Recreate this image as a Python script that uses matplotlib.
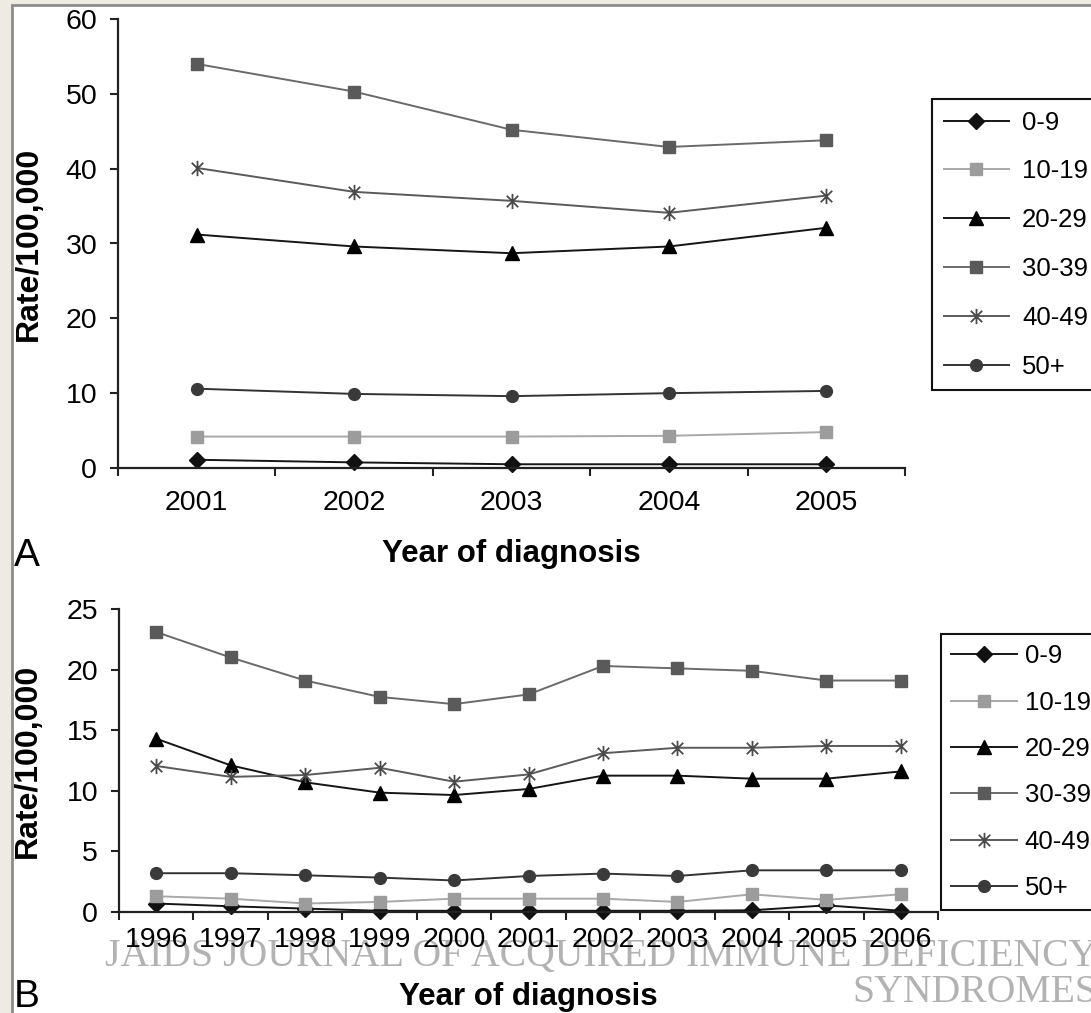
import matplotlib
matplotlib.use("Agg")
import matplotlib.pyplot as plt
from matplotlib.path import Path
from matplotlib.patches import Rectangle
from matplotlib.ticker import FixedLocator, NullFormatter

plt.rcParams['font.family'] = ['Liberation Sans', 'DejaVu Sans']

# ---------------- data ----------------
series_labels = ["0-9", "10-19", "20-29", "30-39", "40-49", "50+"]

years_a = ["2001", "2002", "2003", "2004", "2005"]
a_0_9 = [1.1, 0.75, 0.5, 0.5, 0.5]
a_10_19 = [4.2, 4.2, 4.2, 4.3, 4.8]
a_20_29 = [31.2, 29.6, 28.7, 29.6, 32.1]
a_30_39 = [54.0, 50.3, 45.2, 42.9, 43.8]
a_40_49 = [40.1, 36.9, 35.7, 34.1, 36.4]
a_50p = [10.6, 9.9, 9.6, 10.0, 10.3]

years_b = ["1996", "1997", "1998", "1999", "2000", "2001",
           "2002", "2003", "2004", "2005", "2006"]
b_0_9 = [0.7, 0.47, 0.28, 0.1, 0.1, 0.1, 0.1, 0.1, 0.14, 0.55, 0.1]
b_10_19 = [1.3, 1.1, 0.7, 0.83, 1.1, 1.1, 1.1, 0.83, 1.46, 1.0, 1.46]
b_20_29 = [14.3, 12.1, 10.7, 9.85, 9.65, 10.15, 11.25, 11.25, 11.0, 11.0, 11.6]
b_30_39 = [23.1, 21.0, 19.1, 17.75, 17.15, 17.95, 20.3, 20.1, 19.9, 19.1, 19.1]
b_40_49 = [12.05, 11.15, 11.3, 11.9, 10.75, 11.35, 13.1, 13.55, 13.55, 13.7, 13.7]
b_50p = [3.2, 3.2, 3.03, 2.84, 2.6, 2.97, 3.17, 2.97, 3.44, 3.44, 3.44]

# ---------------- styles ----------------
star = Path([(0, -1), (0, 1), (-0.75, -0.75), (0.75, 0.75), (-0.75, 0.75), (0.75, -0.75)],
            [Path.MOVETO, Path.LINETO, Path.MOVETO, Path.LINETO, Path.MOVETO, Path.LINETO])

styles = [
    dict(color='#151515', marker='D', ms=8, mfc='#111111', mec='#111111'),
    dict(color='#a8a8a8', marker='s', ms=8.5, mfc='#9c9c9c', mec='#9c9c9c'),
    dict(color='#151515', marker='^', ms=10, mfc='#000000', mec='#000000'),
    dict(color='#6a6a6a', marker='s', ms=8.5, mfc='#5a5a5a', mec='#5a5a5a'),
    dict(color='#5a5a5a', marker=star, ms=11, mfc='none', mec='#4a4a4a', mew=1.3),
    dict(color='#333333', marker='o', ms=8.5, mfc='#3a3a3a', mec='#3a3a3a'),
]

W, H = 1091, 1013
fig = plt.figure(figsize=(W / 100, H / 100), dpi=100)
fig.patch.set_facecolor('#eeebe3')
fig.patches.append(Rectangle((12 / W, -0.02), 1.05, 1 - 5 / H + 0.02,
                             transform=fig.transFigure, facecolor='white',
                             edgecolor='#8c8c8c', linewidth=2, zorder=-5))


def px_box(l, r, top, bottom):
    return [l / W, 1 - bottom / H, (r - l) / W, (bottom - top) / H]


def draw_panel(rect, cats, data, ymax, ystep, xpad, leg_anchor, leg_kw):
    ax = fig.add_axes(rect)
    ax.set_facecolor('none')
    x = list(range(len(cats)))
    for lab, vals, st in zip(series_labels, data, styles):
        ax.plot(x, vals, label=lab, lw=1.4, clip_on=False, **st)
    ax.set_xlim(-0.5, len(cats) - 0.5)
    ax.set_ylim(0, ymax)
    ax.set_yticks(list(range(0, ymax + 1, ystep)))
    ax.set_xticks(x)
    ax.set_xticklabels(cats)
    ax.xaxis.set_minor_locator(FixedLocator([i - 0.5 for i in range(len(cats) + 1)]))
    ax.xaxis.set_minor_formatter(NullFormatter())
    for s in ['top', 'right']:
        ax.spines[s].set_visible(False)
    for s in ['left', 'bottom']:
        ax.spines[s].set_color('#222222')
        ax.spines[s].set_linewidth(1.6)
    ax.tick_params(axis='y', direction='out', length=6, width=1.5, color='#222222',
                   labelsize=20.5, pad=9)
    ax.tick_params(axis='x', which='major', length=0, labelsize=20.5, pad=xpad)
    ax.tick_params(axis='x', which='minor', direction='out', length=6, width=1.5,
                   color='#222222')
    leg = ax.legend(loc='upper left', bbox_to_anchor=leg_anchor,
                    bbox_transform=fig.transFigure, borderaxespad=0,
                    fontsize=18.5, frameon=True, fancybox=False, framealpha=1,
                    edgecolor='#111111', handlelength=2.55, numpoints=1, **leg_kw)
    leg.get_frame().set_linewidth(1.5)
    return ax


axA = draw_panel(px_box(118, 905, 19, 468), years_a,
                 [a_0_9, a_10_19, a_20_29, a_30_39, a_40_49, a_50p],
                 60, 10, 15.5, (932 / W, 1 - 99 / H),
                 dict(labelspacing=0.965, borderpad=0.45, handletextpad=0.5))
axB = draw_panel(px_box(119, 938, 609, 912), years_b,
                 [b_0_9, b_10_19, b_20_29, b_30_39, b_40_49, b_50p],
                 25, 5, 11, (941 / W, 1 - 634 / H),
                 dict(labelspacing=0.87, borderpad=0.4, handletextpad=0.3))

for ax, ylx, xly in [(axA, -0.0945, -0.209), (axB, -0.0935, -0.307)]:
    ax.set_ylabel('Rate/100,000', fontsize=23, fontweight='bold')
    ax.yaxis.set_label_coords(ylx, 0.5)
    ax.set_xlabel('Year of diagnosis', fontsize=22.5, fontweight='bold')
    ax.xaxis.set_label_coords(0.5, xly)
    ax.xaxis.label.set_verticalalignment('baseline')

fig.text(14 / W, 1 - 566 / H, 'A', fontsize=28, ha='left', va='baseline')
fig.text(14 / W, 1 - 1007 / H, 'B', fontsize=28, ha='left', va='baseline')

wm = dict(family=['Liberation Serif', 'DejaVu Serif'], fontsize=28.6, color='#b2b2b2',
          ha='right', va='baseline', zorder=-1)
fig.text(1097 / W, 1 - 966 / H, 'JAIDS JOURNAL OF ACQUIRED IMMUNE DEFICIENCY', **wm)
fig.text(1097 / W, 1 - 1002 / H, 'SYNDROMES', **wm)

fig.savefig('out.png', dpi=100, facecolor=fig.get_facecolor())
